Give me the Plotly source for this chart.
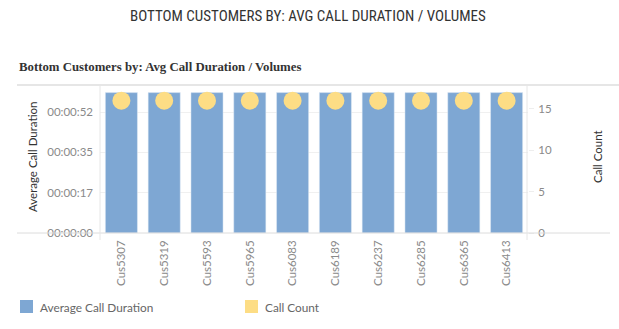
import plotly.graph_objects as go

customers = ["Cus5307", "Cus5319", "Cus5593", "Cus5965", "Cus6083",
             "Cus6189", "Cus6237", "Cus6285", "Cus6365", "Cus6413"]
avg_duration_sec = [61, 61, 61, 61, 61, 61, 61, 61, 61, 61]
call_count = [16, 16, 16, 16, 16, 16, 16, 16, 16, 16]
dur_tickvals = [0, 17.5, 35, 52.5]
dur_ticktext = ["00:00:00", "00:00:17", "00:00:35", "00:00:52"]
cnt_tickvals = [0, 5, 10, 15]

BAR = "#7EA7D3"
DOT = "#FDDD85"
TICK = "#8a8a8a"
FONT = "Lato, 'Open Sans', sans-serif"

fig = go.Figure()
fig.add_trace(go.Bar(x=customers, y=avg_duration_sec, marker_color=BAR,
                     width=0.75, name="Average Call Duration", yaxis="y"))
fig.add_trace(go.Scatter(x=customers, y=call_count, mode="markers",
                         marker=dict(color=DOT, size=18, line=dict(width=0)),
                         name="Call Count", yaxis="y2"))

W, H = 619, 329
L, R, T, B = 100, 91, 85, 96
pw, ph = W - L - R, H - T - B

def px(x):
    return (x - L) / pw

def py(y):
    return (H - B - y) / ph

fig.update_layout(
    width=W, height=H, margin=dict(l=L, r=R, t=T, b=B, autoexpand=False),
    paper_bgcolor="white", plot_bgcolor="white", showlegend=False,
    bargap=0.25,
    xaxis=dict(tickangle=-90, tickfont=dict(family=FONT, size=11.5, color=TICK),
               showgrid=False, showline=False, ticks="", ticklabelstandoff=4,
               automargin=False, range=[-0.5, 9.5]),
    yaxis=dict(range=[0, 64.3], tickvals=dur_tickvals, ticktext=dur_ticktext,
               tickfont=dict(family=FONT, size=11.5, color=TICK),
               showgrid=True, gridcolor="#f0f0f0", zeroline=False,
               showline=False, ticks="", ticklabelstandoff=6, automargin=False),
    yaxis2=dict(range=[0, 17.9], tickvals=cnt_tickvals, overlaying="y", side="right",
                tickfont=dict(family=FONT, size=11.5, color=TICK),
                showgrid=False, zeroline=False, showline=False, automargin=False,
                ticks="outside", ticklen=5, tickcolor="#eeeeee", ticklabelstandoff=2),
)

line = dict(color="#dcdcdc", width=1)
shapes = [
    dict(type="line", xref="paper", yref="paper", x0=px(17), x1=px(619), y0=py(85), y1=py(85), line=dict(color="#e6e6e6", width=2)),
    dict(type="line", xref="paper", yref="paper", x0=px(17), x1=px(610), y0=py(233), y1=py(233), line=line),
    dict(type="line", xref="paper", yref="paper", x0=px(100), x1=px(100), y0=py(85), y1=py(240), line=dict(color="#e6e6e6", width=1)),
    dict(type="line", xref="paper", yref="paper", x0=px(527), x1=px(527), y0=py(85), y1=py(240), line=dict(color="#e6e6e6", width=1)),
    dict(type="rect", xref="paper", yref="paper", x0=px(20), x1=px(33), y0=py(300), y1=py(313), fillcolor=BAR, line=dict(width=0)),
    dict(type="rect", xref="paper", yref="paper", x0=px(245), x1=px(258), y0=py(300), y1=py(313), fillcolor=DOT, line=dict(width=0)),
]
fig.update_layout(shapes=shapes)

ann = [
    dict(text="BOTTOM CUSTOMERS BY: AVG CALL DURATION / VOLUMES", x=px(308), y=py(16),
         font=dict(family="'Liberation Sans Narrow', 'Roboto Condensed', Roboto, sans-serif", size=15, color="#333333")),
    dict(text="<b>Bottom Customers by: Avg Call Duration / Volumes</b>", x=px(17), y=py(67), xanchor="left",
         font=dict(family="'Liberation Serif', serif", size=12.8, color="#333333")),
    dict(text="Average Call Duration", x=px(32), y=py(157), textangle=-90,
         font=dict(family=FONT, size=11.5, color="#333333")),
    dict(text="Call Count", x=px(597), y=py(157), textangle=-90,
         font=dict(family=FONT, size=11.5, color="#333333")),
    dict(text="Average Call Duration", x=px(38), y=py(307), xanchor="left",
         font=dict(family=FONT, size=11.8, color="#666666")),
    dict(text="Call Count", x=px(263), y=py(307), xanchor="left",
         font=dict(family=FONT, size=11.8, color="#666666")),
]
for a in ann:
    a.setdefault("xanchor", "center")
    a.update(xref="paper", yref="paper", yanchor="middle", showarrow=False)
fig.update_layout(annotations=ann)

fig.write_html("out.html")
